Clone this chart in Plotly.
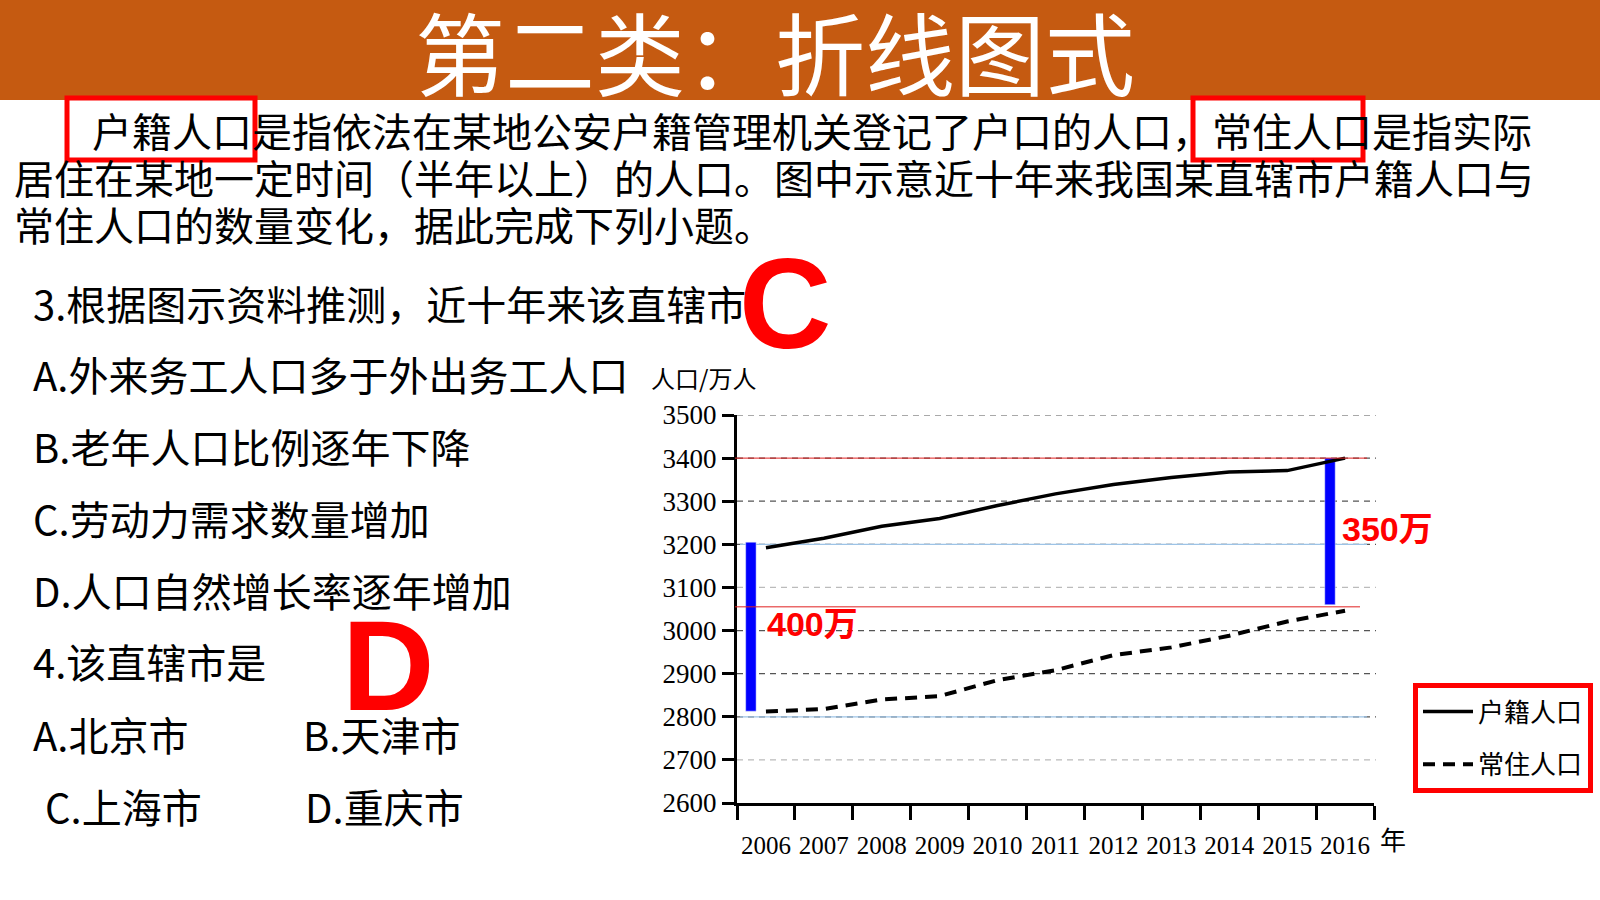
import plotly.graph_objects as go

# Data (万人)
years = [2006, 2007, 2008, 2009, 2010, 2011, 2012, 2013, 2014, 2015, 2016]
huji = [3192, 3214, 3242, 3260, 3290, 3317, 3339, 3355, 3368, 3371, 3400]
changzhu = [2812, 2818, 2840, 2848, 2885, 2908, 2943, 2961, 2988, 3021, 3046]
series_names = ["户籍人口", "常住人口"]

# Gap bars drawn on the chart
gap_years = [2006, 2016]
gap_top = [3205, 3400]
gap_bottom = [2813, 3060]
gap_text = ["400万", "350万"]

# Helper lines
red_levels = [3400, 3055]
blue_levels = [3200, 2800]

y_ticks = [2600, 2700, 2800, 2900, 3000, 3100, 3200, 3300, 3400, 3500]
light_grid = [2700, 3100]

title = "第二类：折线图式"
para_lines = [
    "户籍人口是指依法在某地公安户籍管理机关登记了户口的人口，常住人口是指实际",
    "居住在某地一定时间（半年以上）的人口。图中示意近十年来我国某直辖市户籍人口与",
    "常住人口的数量变化，据此完成下列小题。",
]
questions = [
    "3.根据图示资料推测，近十年来该直辖市",
    "A.外来务工人口多于外出务工人口",
    "B.老年人口比例逐年下降",
    "C.劳动力需求数量增加",
    "D.人口自然增长率逐年增加",
    "4.该直辖市是",
]
options = [["A.北京市", "B.天津市"], ["C.上海市", "D.重庆市"]]
answers = ["C", "D"]

W, H = 1600, 900
CJK = "Noto Sans CJK SC"
SERIF = "Liberation Serif"


def px(x):
    return x / W


def py(y):
    return 1 - y / H


fig = go.Figure()

# blue gap bars
fig.add_trace(go.Bar(
    x=[y - 0.26 for y in gap_years],
    y=[t - b for t, b in zip(gap_top, gap_bottom)],
    base=gap_bottom,
    width=0.18,
    marker_color="#0000FF",
    showlegend=False,
    hoverinfo="skip",
))

fig.add_trace(go.Scatter(
    x=years, y=huji, mode="lines", name=series_names[0],
    line=dict(color="black", width=3.5), legendgroup="a",
))
fig.add_trace(go.Scatter(
    x=years, y=changzhu, mode="lines", name=series_names[1],
    line=dict(color="black", width=4, dash="12px,8px"), legendgroup="b",
))

shapes = []
# header band
shapes.append(dict(type="rect", xref="paper", yref="paper", x0=0, x1=1,
                   y0=py(100), y1=1, fillcolor="#C55A11", line_width=0, layer="below"))
# red boxes round the key words
for x0, x1 in [(67, 255), (1193, 1363)]:
    shapes.append(dict(type="rect", xref="paper", yref="paper",
                       x0=px(x0), x1=px(x1), y0=py(160), y1=py(98),
                       line=dict(color="#FF0000", width=5)))
# dashed grid, some levels lighter as in the picture
for lv in y_ticks[1:]:
    col = "#BBBBBB" if lv in light_grid else "#555555"
    shapes.append(dict(type="line", xref="paper", yref="y", x0=px(737), x1=px(1376),
                       y0=lv, y1=lv, layer="below",
                       line=dict(color=col, width=1.2, dash="6px,5px")))
# thin helper lines
for lv, x1 in zip(red_levels, [1367, 1360]):
    shapes.append(dict(type="line", xref="paper", yref="y", x0=px(735), x1=px(x1),
                       y0=lv, y1=lv, line=dict(color="#E02020", width=1)))
for lv in blue_levels:
    shapes.append(dict(type="line", xref="paper", yref="y", x0=px(740), x1=px(1367),
                       y0=lv, y1=lv, layer="below", line=dict(color="#9DC3E6", width=1.2)))

ann = []
ann.append(dict(text=title, x=px(775), y=py(50), xref="paper", yref="paper",
                showarrow=False, font=dict(family=CJK, size=90, color="white"),
                xanchor="center", yanchor="middle"))
para_x = [90, 12, 12]
para_y = [130, 177, 224]
for t, x, y in zip(para_lines, para_x, para_y):
    ann.append(dict(text=t, x=px(x), y=py(y), xref="paper", yref="paper",
                    showarrow=False, font=dict(family=CJK, size=40, color="black"),
                    xanchor="left", yanchor="middle"))
q_y = [303, 374, 446, 518, 590, 661]
for t, y in zip(questions, q_y):
    ann.append(dict(text=t, x=px(31), y=py(y), xref="paper", yref="paper",
                    showarrow=False, font=dict(family=CJK, size=40, color="black"),
                    xanchor="left", yanchor="middle"))
for row, y, xs in zip(options, [734, 806], [(31, 301), (43, 303)]):
    for t, x in zip(row, xs):
        ann.append(dict(text=t, x=px(x), y=py(y), xref="paper", yref="paper",
                        showarrow=False, font=dict(family=CJK, size=40, color="black"),
                        xanchor="left", yanchor="middle"))
for t, (x, y) in zip(answers, [(785, 304), (388, 665)]):
    ann.append(dict(text="<b>%s</b>" % t, x=px(x), y=py(y), xref="paper", yref="paper",
                    showarrow=False, font=dict(family="Liberation Sans", size=128, color="#FF0000"),
                    xanchor="center", yanchor="middle"))
for t, (x, y) in zip(gap_text, [(765, 624), (1340, 529)]):
    ann.append(dict(text="<b>%s</b>" % t, x=px(x), y=py(y), xref="paper", yref="paper",
                    showarrow=False, font=dict(family="Liberation Sans, " + CJK, size=34, color="#FF0000"),
                    xanchor="left", yanchor="middle"))
ann.append(dict(text="人口/万人", x=px(649), y=py(377), xref="paper", yref="paper",
                showarrow=False, font=dict(family=CJK, size=24, color="black"),
                xanchor="left", yanchor="middle"))
ann.append(dict(text="年", x=px(1378), y=py(838), xref="paper", yref="paper",
                showarrow=False, font=dict(family=CJK, size=26, color="black"),
                xanchor="left", yanchor="middle"))

fig.update_layout(
    width=W, height=H,
    margin=dict(l=0, r=0, t=0, b=0, autoexpand=False),
    paper_bgcolor="white", plot_bgcolor="white",
    shapes=shapes,
    annotations=ann,
    barmode="overlay",
    xaxis=dict(
        domain=[px(737), px(1374)],
        range=[2005.5, 2016.5],
        tickvals=years,
        ticktext=[str(y) for y in years],
        ticks="",
        ticklabelstandoff=18,
        showline=True, linecolor="black", linewidth=3,
        showgrid=False, zeroline=False, automargin=False,
        tickfont=dict(family=SERIF, size=25, color="black"),
        minor=dict(tickmode="linear", tick0=2005.5, dtick=1, ticks="outside",
                   ticklen=14, tickwidth=3, tickcolor="black", showgrid=False),
    ),
    yaxis=dict(
        domain=[py(803), py(415)],
        range=[2600, 3500],
        tickvals=y_ticks,
        ticks="outside", ticklen=12, tickwidth=3, tickcolor="black",
        showline=True, linecolor="black", linewidth=3,
        showgrid=False, zeroline=False, automargin=False,
        tickfont=dict(family=SERIF, size=27, color="black"),
    ),
    legend=dict(
        x=px(1413), y=py(683), xanchor="left", yanchor="top",
        bordercolor="#FF0000", borderwidth=5, bgcolor="white",
        font=dict(family=CJK, size=26, color="black"),
        traceorder="grouped", tracegroupgap=16, itemwidth=50,
    ),
)

fig.write_html(
    "out.html",
    config={"displayModeBar": False},
    post_script="document.body.style.margin='0';document.body.style.overflow='hidden';",
)
